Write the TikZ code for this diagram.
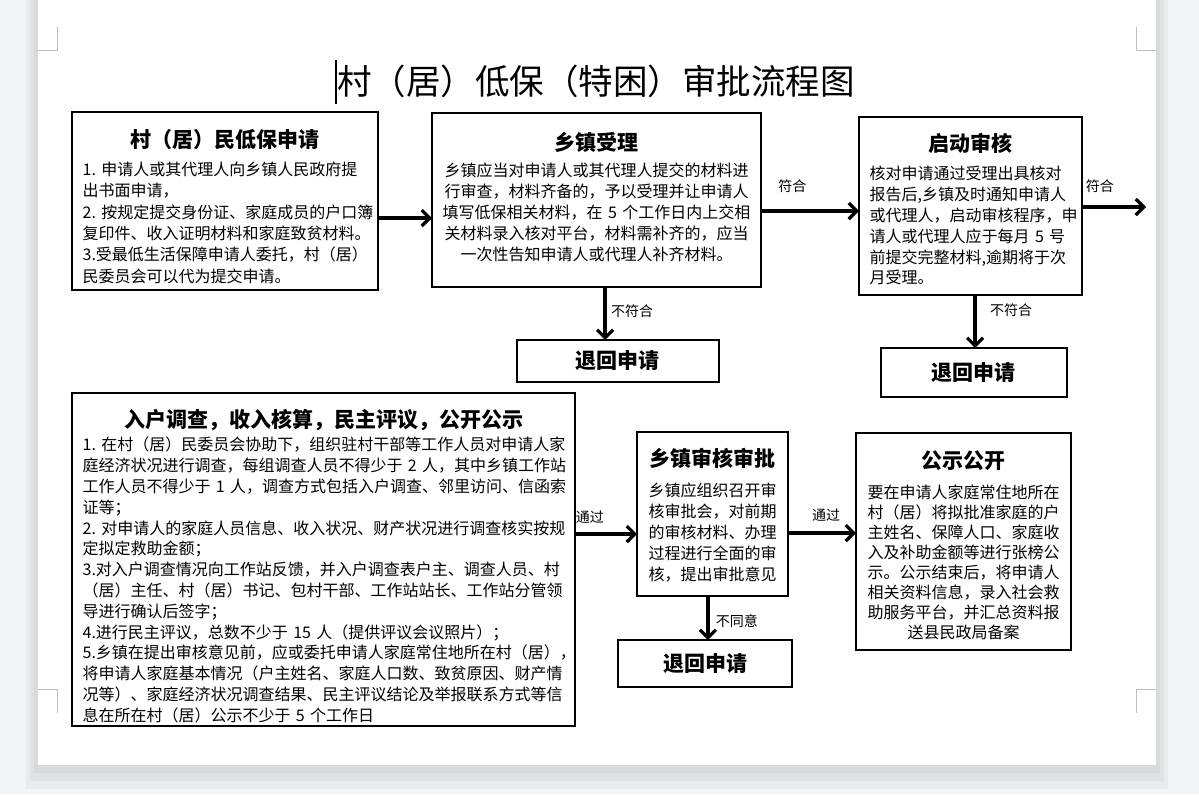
\documentclass[tikz,border=0pt]{standalone}
\usepackage{fontspec}
\setmainfont{Noto Sans CJK SC}
\usetikzlibrary{arrows.meta}
\usetikzlibrary{positioning}
\definecolor{deskgray}{RGB}{243,244,246}
\definecolor{markgray}{RGB}{191,191,191}
\newcommand{\bodyfont}{\fontsize{12pt}{15.6pt}\selectfont}
\newcommand{\headfont}{\fontsize{15.75pt}{19pt}\selectfont\bfseries}
\newcommand{\lblfont}{\fontsize{10.5pt}{12pt}\selectfont}
\newcommand{\ttl}[2][5.25pt]{{\centering\headfont #2\par}\vspace{#1}}

\begin{document}
\begin{tikzpicture}[x=0.75pt, y=-0.75pt,
    box/.style={draw, line width=1.1pt, inner xsep=7.5pt, inner ysep=1pt, outer sep=0pt, align=left, font=\bodyfont},
    rej/.style={draw, line width=1.1pt, font=\headfont, inner sep=0pt, outer sep=0pt},
    arr/.style={-{Straight Barb[length=6pt, width=12pt, line width=2.4pt]}, line width=3pt},
    lbl/.style={font=\lblfont, inner sep=0pt}]
    \useasboundingbox (0,0) rectangle (1199,794);
    \fill[deskgray] (0,0) rectangle (1199,794);
    \foreach \d in {12,8,4}
        \fill[black, opacity=0.035] (38-\d,0) rectangle (1156+\d,765+2*\d);
    \fill[white] (38,0) rectangle (1156,765);
    \draw[markgray, line width=0.75pt] (37,50) -- (57,50) -- (57,27);
    \draw[markgray, line width=0.75pt] (1157,50) -- (1136,50) -- (1136,27);
    \draw[markgray, line width=0.75pt] (38,689) -- (57,689) -- (57,713);
    \draw[markgray, line width=0.75pt] (1156,689) -- (1136,689) -- (1136,713);

    \node[font=\fontsize{25.9pt}{30pt}\selectfont] (title) at (596,81) {村（居）低保（特困）审批流程图};
    \draw[line width=1.1pt] (336,60) -- (336,104);

    \node[box, font=\fontsize{12pt}{16pt}\selectfont, minimum width=229.5pt, text width=213.5pt, text height=25.25pt, text depth=106.25pt, anchor=north west] (apply) at (72,112)
        {\ttl{村（居）民低保申请}
        1.~申请人或其代理人向乡镇人民政府提\\
        出书面申请，\\
        2.~按规定提交身份证、家庭成员的户口簿\\
        复印件、收入证明材料和家庭致贫材料。\\
        3.受最低生活保障申请人委托，村（居）\\
        民委员会可以代为提交申请。};
    \node[box, align=center, minimum width=246.75pt, text width=230.75pt, text height=26.75pt, text depth=101.75pt] (accept) [below right=0.75pt and 40.5pt of apply.north east]
        {\ttl[4.5pt]{乡镇受理}
        乡镇应当对申请人或其代理人提交的材料进\\
        行审查，材料齐备的，予以受理并让申请人\\
        填写低保相关材料，在~5~个工作日内上交相\\
        关材料录入核对平台，材料需补齐的，应当\\
        一次性告知申请人或代理人补齐材料。};
    \node[box, minimum width=167.25pt, text width=151.25pt, text height=24.5pt, text depth=107pt] (review) [below right=3pt and 73.5pt of accept.north east]
        {\ttl[6pt]{启动审核}
        核对申请通过受理出具核对\\
        报告后,乡镇及时通知申请人\\
        或代理人，启动审核程序，申\\
        请人或代理人应于每月~5~号\\
        前提交完整材料,逾期将于次\\
        月受理。};
    \coordinate[right=48pt of review.east, yshift=-0.75pt] (out);

    \node[rej, minimum width=151.5pt, minimum height=31.5pt] (rejB) [below=39.75pt of accept.south, xshift=16.1pt] {退回申请};
    \node[rej, minimum width=139.5pt, minimum height=36.75pt] (rejC) [below=39.75pt of review.south, xshift=2.6pt] {退回申请};

    \node[box, minimum width=377.25pt, text width=361.25pt, text height=24.5pt, text depth=223.25pt] (survey) [below=77.25pt of apply.south west, anchor=north west]
        {\ttl[2.25pt]{入户调查，收入核算，民主评议，公开公示}
        1.~在村（居）民委员会协助下，组织驻村干部等工作人员对申请人家\\
        庭经济状况进行调查，每组调查人员不得少于~2~人，其中乡镇工作站\\
        工作人员不得少于~1~人，调查方式包括入户调查、邻里访问、信函索\\
        证等；\\
        2.~对申请人的家庭人员信息、收入状况、财产状况进行调查核实按规\\
        定拟定救助金额；\\
        3.对入户调查情况向工作站反馈，并入户调查表户主、调查人员、村\\
        （居）主任、村（居）书记、包村干部、工作站站长、工作站分管领\\
        导进行确认后签字；\\
        4.进行民主评议，总数不少于~15~人（提供评议会议照片）；\\
        5.乡镇在提出审核意见前，应或委托申请人家庭常住地所在村（居），\\
        将申请人家庭基本情况（户主姓名、家庭人口数、致贫原因、财产情\\
        况等）、家庭经济状况调查结果、民主评议结论及举报联系方式等信\\
        息在所在村（居）公示不少于~5~个工作日};
    \node[box, align=center, minimum width=113.25pt, text width=97.25pt, text height=24.5pt, text depth=96.5pt] (approve) [below right=29.25pt and 46.5pt of survey.north east]
        {\ttl[7.5pt]{乡镇审核审批}
        乡镇应组织召开审\\
        核审批会，对前期\\
        的审核材料、办理\\
        过程进行全面的审\\
        核，提出审批意见};
    \node[box, align=center, font=\fontsize{12pt}{15pt}\selectfont, minimum width=161.25pt, text width=145.25pt, text height=25.25pt, text depth=135.5pt] (publish) [below right=0.75pt and 51pt of approve.north east]
        {\ttl[7.5pt]{公示公开}
        要在申请人家庭常住地所在\\
        村（居）将拟批准家庭的户\\
        主姓名、保障人口、家庭收\\
        入及补助金额等进行张榜公\\
        示。公示结束后，将申请人\\
        相关资料信息，录入社会救\\
        助服务平台，并汇总资料报\\
        送县民政局备案};
    \node[rej, minimum width=130.5pt, minimum height=35.25pt] (rejE) [below=33pt of approve.south, xshift=-5.6pt] {退回申请};

    \draw[arr] ([yshift=-12.75pt]apply.east) -- ([yshift=-12.75pt]apply.east -| accept.west);
    \draw[arr] ([yshift=-8.25pt]accept.east) -- ([yshift=-8.25pt]accept.east -| review.west)
        node[lbl, pos=.32, yshift=18.75pt] {符合};
    \draw[arr] ([yshift=-0.75pt]review.east) -- (out)
        node[lbl, pos=.28, yshift=15.75pt] {符合};
    \draw[arr] ([xshift=6.4pt]accept.south) -- ([xshift=6.4pt]accept.south |- rejB.north)
        node[lbl, pos=.45, xshift=20.25pt] {不符合};
    \draw[arr] ([xshift=3.4pt]review.south) -- ([xshift=3.4pt]review.south |- rejC.north)
        node[lbl, pos=.28, xshift=27pt] {不符合};
    \draw[arr] ([yshift=-15pt]approve.west -| survey.east) -- ([yshift=-15pt]approve.west)
        node[lbl, pos=.24, yshift=12.75pt] {通过};
    \draw[arr] ([yshift=-14.25pt]approve.east) -- ([yshift=-14.25pt]approve.east -| publish.west)
        node[lbl, pos=.56, yshift=13.5pt] {通过};
    \draw[arr] ([xshift=-3.4pt]approve.south) -- ([xshift=-3.4pt]approve.south |- rejE.north)
        node[lbl, pos=.57, xshift=21.75pt] {不同意};
\end{tikzpicture}
\end{document}
